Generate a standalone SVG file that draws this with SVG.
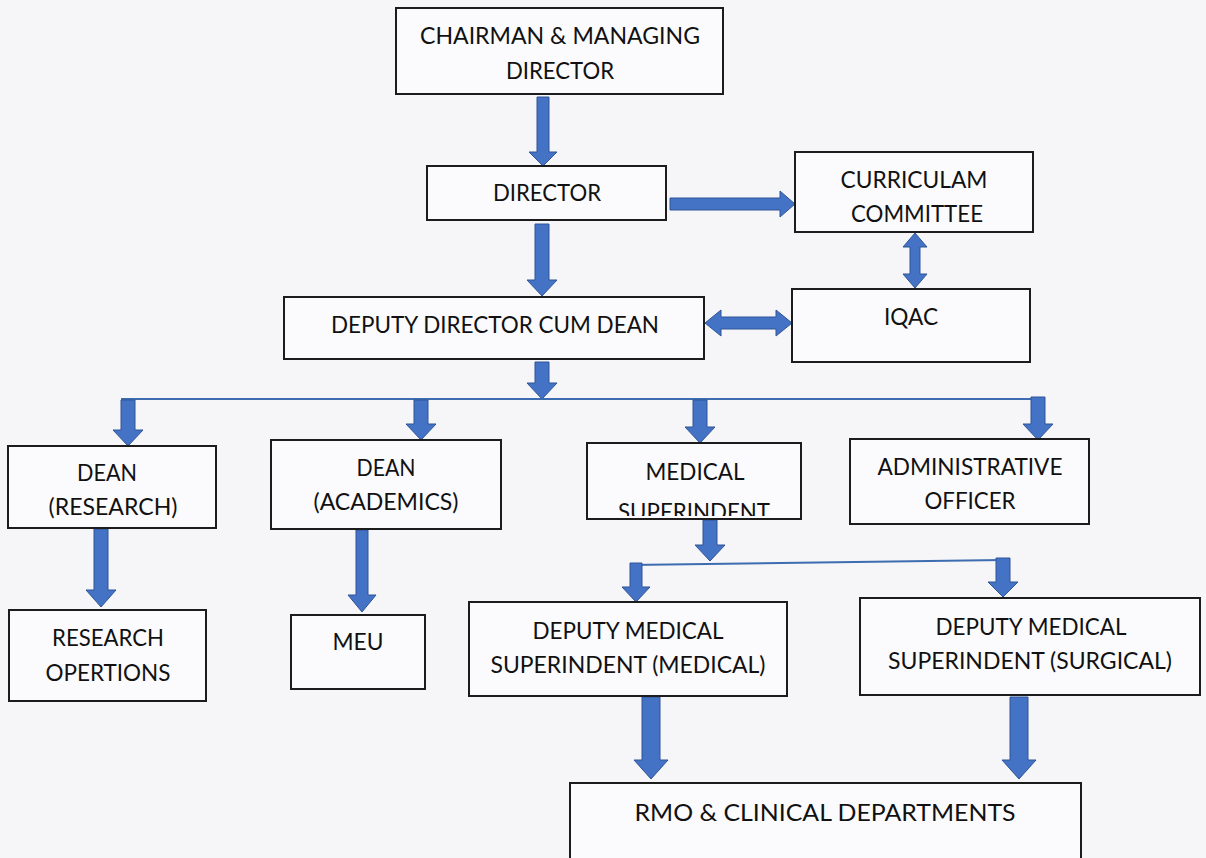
<svg xmlns="http://www.w3.org/2000/svg" width="1206" height="858" viewBox="0 0 1206 858">
<style>
.box{fill:#fbfbfd;stroke:#1c1c1c;stroke-width:2}
.t{font-family:Lato,"Liberation Sans",sans-serif;font-size:23px;fill:#111;text-anchor:middle}
.arr{fill:#4472c4;stroke:#2f5597;stroke-width:1}
.bus{fill:none;stroke:#3d6cb0;stroke-width:2}
</style>
<defs>
<clipPath id="msclip"><rect x="587" y="443" width="214" height="73"/></clipPath>
</defs>
<rect width="1206" height="858" fill="#f6f5f8"/>
<g id="connectors">
<path class="arr" d="M537,97 L549,97 L549,152 L557,152 L543,166 L529,152 L537,152 Z"/>
<path class="arr" d="M535,224 L549,224 L549,280 L557,280 L542,296 L527,280 L535,280 Z"/>
<path class="arr" d="M670,198 L780,198 L780,191 L795,204 L780,217 L780,210 L670,210 Z"/>
<path class="arr" d="M915,233 L927,247 L920,247 L920,274 L927,274 L915,288 L903,274 L910,274 L910,247 L903,247 Z"/>
<path class="arr" d="M705,323 L721,310 L721,317 L776,317 L776,310 L792,323 L776,336 L776,329 L721,329 L721,336 Z"/>
<path class="arr" d="M535,362 L549,362 L549,383 L557,383 L542,399 L527,383 L535,383 Z"/>
<line class="bus" x1="121" y1="399" x2="1045" y2="399"/>
<path class="arr" d="M121,400 L135,400 L135,430 L143,430 L128,446 L113,430 L121,430 Z"/>
<path class="arr" d="M414,400 L428,400 L428,424 L436,424 L421,440 L406,424 L414,424 Z"/>
<path class="arr" d="M693,400 L707,400 L707,427 L715,427 L700,443 L685,427 L693,427 Z"/>
<path class="arr" d="M1031,397 L1045,397 L1045,424 L1053,424 L1038,440 L1023,424 L1031,424 Z"/>
<path class="arr" d="M94,529 L108,529 L108,590 L116,590 L101,607 L86,590 L94,590 Z"/>
<path class="arr" d="M356,530 L368,530 L368,595 L376,595 L362,612 L348,595 L356,595 Z"/>
<path class="arr" d="M703,520 L717,520 L717,545 L725,545 L710,561 L695,545 L703,545 Z"/>
<line class="bus" x1="630" y1="565" x2="1003" y2="560"/>
<path class="arr" d="M630,563 L642,563 L642,587 L650,587 L636,602 L622,587 L630,587 Z"/>
<path class="arr" d="M996,558 L1010,558 L1010,582 L1018,582 L1003,597 L988,582 L996,582 Z"/>
<path class="arr" d="M642,697 L660,697 L660,760 L668,760 L651,779 L634,760 L642,760 Z"/>
<path class="arr" d="M1010,697 L1028,697 L1028,760 L1036,760 L1019,779 L1002,760 L1010,760 Z"/>
</g>
<g id="chairman">
<rect class="box" x="396" y="8" width="327" height="86"/>
<text class="t" x="560" y="44" textLength="280" lengthAdjust="spacingAndGlyphs">CHAIRMAN &amp; MANAGING</text>
<text class="t" x="560" y="79" textLength="108" lengthAdjust="spacingAndGlyphs">DIRECTOR</text>
</g>
<g id="director">
<rect class="box" x="427" y="166" width="239" height="54"/>
<text class="t" x="547" y="201" textLength="108" lengthAdjust="spacingAndGlyphs">DIRECTOR</text>
</g>
<g id="curriculam">
<rect class="box" x="795" y="152" width="238" height="80"/>
<text class="t" x="914" y="188" textLength="147" lengthAdjust="spacingAndGlyphs">CURRICULAM</text>
<text class="t" x="917" y="222" textLength="132" lengthAdjust="spacingAndGlyphs">COMMITTEE</text>
</g>
<g id="iqac">
<rect class="box" x="792" y="289" width="238" height="73"/>
<text class="t" x="911" y="325" textLength="54" lengthAdjust="spacingAndGlyphs">IQAC</text>
</g>
<g id="deputy-director">
<rect class="box" x="284" y="297" width="420" height="62"/>
<text class="t" x="495" y="333" textLength="328" lengthAdjust="spacingAndGlyphs">DEPUTY DIRECTOR CUM DEAN</text>
</g>
<g id="dean-research">
<rect class="box" x="8" y="446" width="208" height="82"/>
<text class="t" x="107" y="481" textLength="60" lengthAdjust="spacingAndGlyphs">DEAN</text>
<text class="t" x="113" y="515" textLength="129" lengthAdjust="spacingAndGlyphs">(RESEARCH)</text>
</g>
<g id="dean-academics">
<rect class="box" x="271" y="440" width="230" height="89"/>
<text class="t" x="386" y="476" textLength="59" lengthAdjust="spacingAndGlyphs">DEAN</text>
<text class="t" x="386" y="510" textLength="145" lengthAdjust="spacingAndGlyphs">(ACADEMICS)</text>
</g>
<g id="medical-superindent">
<rect class="box" x="587" y="443" width="214" height="76"/>
<text class="t" x="695" y="480" textLength="99" lengthAdjust="spacingAndGlyphs">MEDICAL</text>
<text class="t" x="694" y="520" textLength="152" lengthAdjust="spacingAndGlyphs" clip-path="url(#msclip)">SUPERINDENT</text>
</g>
<g id="administrative-officer">
<rect class="box" x="850" y="439" width="239" height="85"/>
<text class="t" x="970" y="475" textLength="185" lengthAdjust="spacingAndGlyphs">ADMINISTRATIVE</text>
<text class="t" x="970" y="509" textLength="91" lengthAdjust="spacingAndGlyphs">OFFICER</text>
</g>
<g id="research-opertions">
<rect class="box" x="9" y="610" width="197" height="91"/>
<text class="t" x="108" y="646" textLength="112" lengthAdjust="spacingAndGlyphs">RESEARCH</text>
<text class="t" x="108" y="681" textLength="125" lengthAdjust="spacingAndGlyphs">OPERTIONS</text>
</g>
<g id="meu">
<rect class="box" x="291" y="615" width="134" height="74"/>
<text class="t" x="358" y="650" textLength="51" lengthAdjust="spacingAndGlyphs">MEU</text>
</g>
<g id="dms-medical">
<rect class="box" x="469" y="602" width="318" height="94"/>
<text class="t" x="628" y="639" textLength="191" lengthAdjust="spacingAndGlyphs">DEPUTY MEDICAL</text>
<text class="t" x="628" y="673" textLength="275" lengthAdjust="spacingAndGlyphs">SUPERINDENT (MEDICAL)</text>
</g>
<g id="dms-surgical">
<rect class="box" x="860" y="598" width="340" height="97"/>
<text class="t" x="1031" y="635" textLength="191" lengthAdjust="spacingAndGlyphs">DEPUTY MEDICAL</text>
<text class="t" x="1030" y="669" textLength="284" lengthAdjust="spacingAndGlyphs">SUPERINDENT (SURGICAL)</text>
</g>
<g id="rmo">
<rect class="box" x="570" y="783" width="511" height="90"/>
<text class="t" x="825" y="821" textLength="381" lengthAdjust="spacingAndGlyphs">RMO &amp; CLINICAL DEPARTMENTS</text>
</g>
</svg>
